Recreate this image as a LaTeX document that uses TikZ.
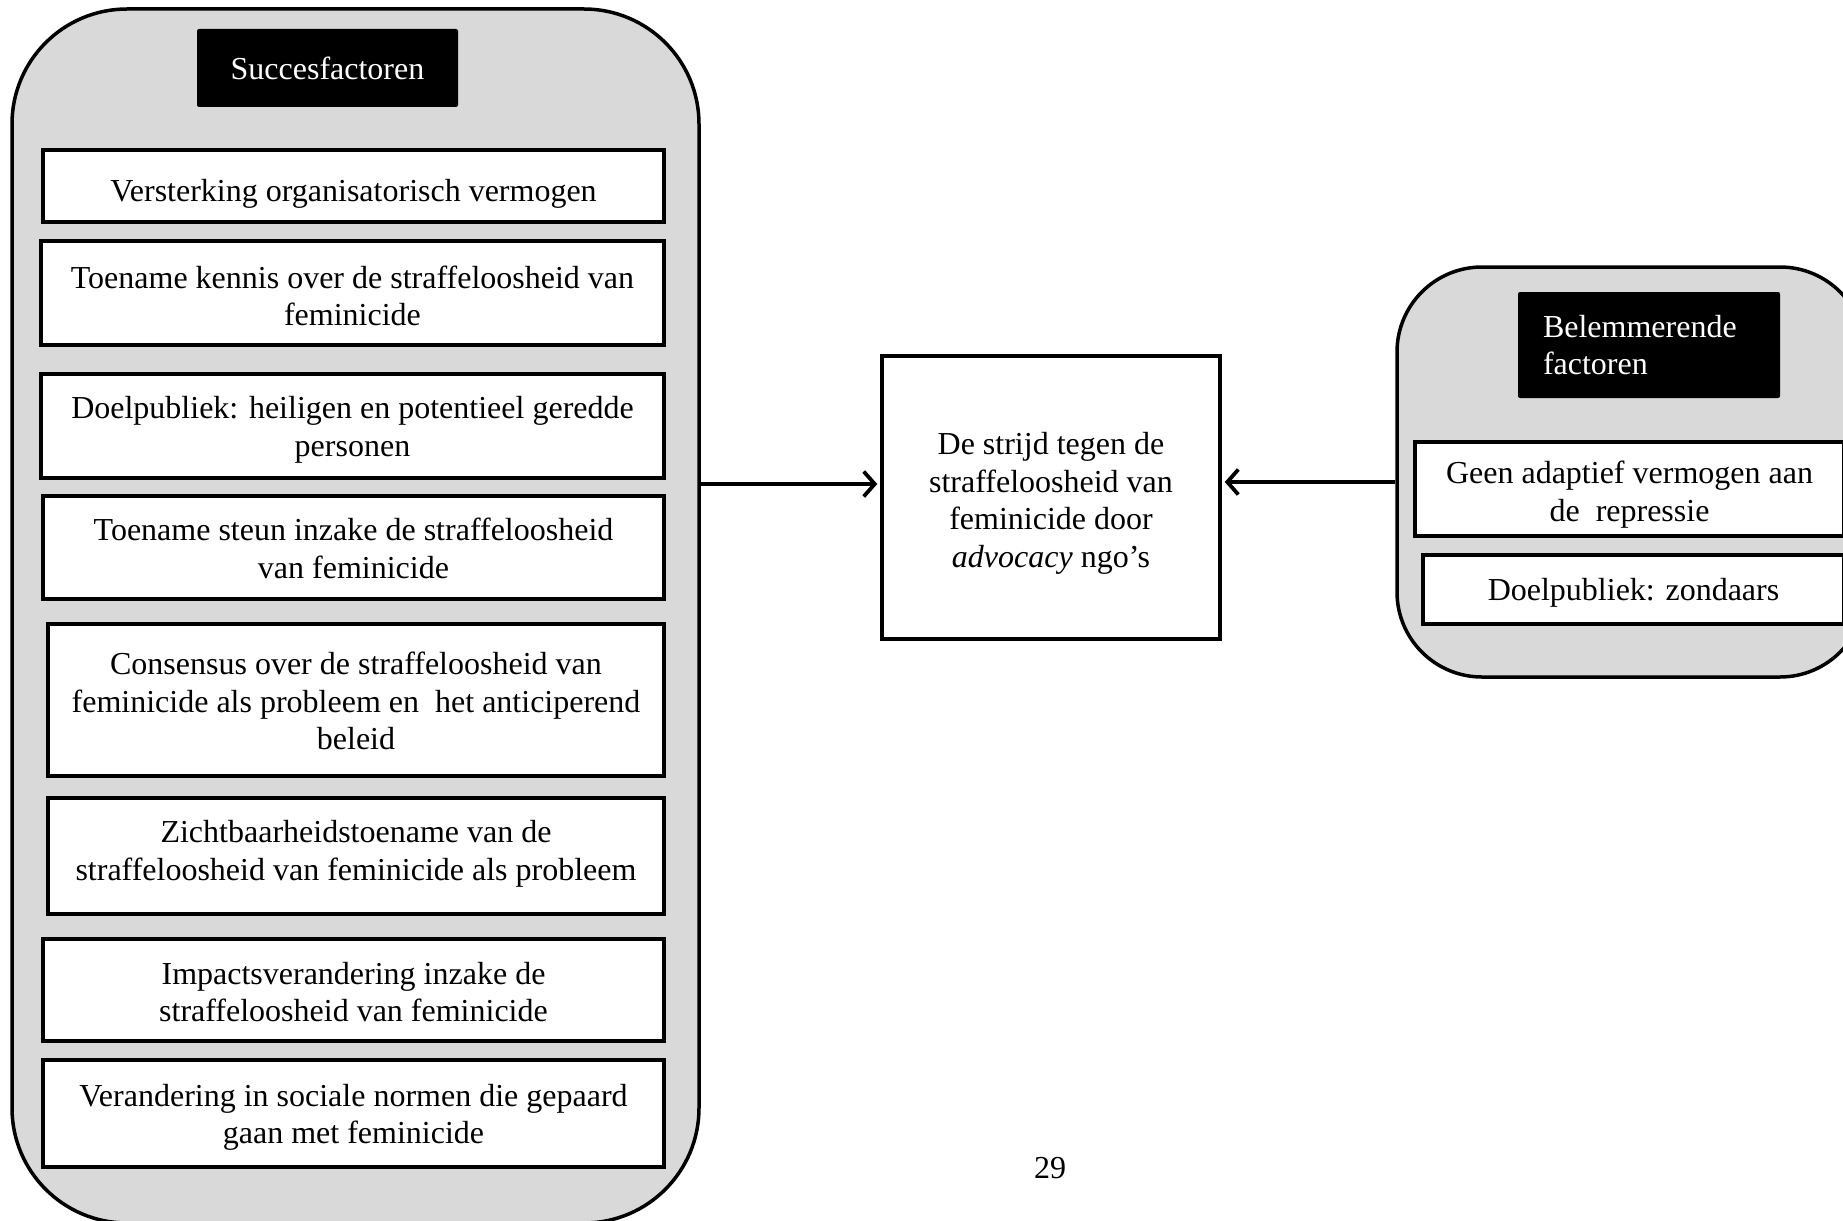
\documentclass[tikz,border=0pt]{standalone}
\usepackage{fontspec}
\setmainfont{Liberation Serif}
\usetikzlibrary{arrows.meta,positioning}

\definecolor{kadergrijs}{RGB}{217,217,217}
% lines of a box, lowered a little without changing the box size
\newcommand{\regels}[2][3pt]{\raisebox{-#1}[\height][\depth]{\begin{tabular}{@{}c@{}}#2\end{tabular}}}

\begin{document}
\begin{tikzpicture}[x=1pt,y=-1pt,
  every node/.style={font=\fontsize{32}{37.5}\selectfont},
  kader/.style={draw,line width=3.5pt,fill=kadergrijs,inner sep=0pt},
  kop/.style={fill=black,text=white,rounded corners=2pt,inner sep=0pt},
  factor/.style={draw,line width=4pt,fill=white,inner sep=0pt},
  pijl/.style={line width=3.8pt,shorten >=3pt,
    -{Straight Barb[length=11pt,width=25pt,line width=3.8pt]}}]
\useasboundingbox (0,0) rectangle (1843,1220);
\clip (0,0) rectangle (1843,1220);

% succesfactoren
\node[kader,rounded corners=115pt,minimum width=687pt,minimum height=1214pt] (succes) at (355.5,616) {};
\node[kop,minimum width=261pt,minimum height=78pt] (kopL) at (327.5,68) {Succesfactoren};

\node[factor,minimum width=621pt,minimum height=72pt] (f1) at (353.5,186)
  {\regels[8pt]{Versterking organisatorisch vermogen}};
\node[factor,minimum width=623pt,minimum height=104pt] (f2) at (352.5,293)
  {\regels[6.5pt]{Toename kennis over de straffeloosheid van\\feminicide}};
\node[factor,minimum width=623pt,minimum height=104pt] (f3) at (352.5,426)
  {\regels[4pt]{Doelpubliek: heiligen en potentieel geredde\\personen}};
\node[factor,minimum width=621pt,minimum height=103pt] (f4) at (353.5,547.5)
  {\regels[4.5pt]{Toename steun inzake de straffeloosheid\\van feminicide}};
\node[factor,minimum width=616pt,minimum height=152pt] (f5) at (356,700)
  {\regels[4.5pt]{Consensus over de straffeloosheid van\\feminicide als probleem en\ \ het anticiperend\\beleid}};
\node[factor,minimum width=616pt,minimum height=116pt] (f6) at (356,856)
  {\regels[-2pt]{Zichtbaarheidstoename van de\\straffeloosheid van feminicide als probleem}};
\node[factor,minimum width=621pt,minimum height=102pt] (f7) at (353.5,990)
  {\regels[5.5pt]{Impactsverandering inzake de\\straffeloosheid van feminicide}};
\node[factor,minimum width=621pt,minimum height=107pt] (f8) at (353.5,1113.5)
  {\regels[4pt]{Verandering in sociale normen die gepaard\\gaan met feminicide}};

% kern
\node[factor,line width=3.5pt,minimum width=338pt,minimum height=283pt] (kern) at (1051,497.5)
  {\regels[6pt]{De strijd tegen de\\straffeloosheid van\\feminicide door\\\textit{advocacy} ngo’s}};

% belemmerende factoren
\node[kader,rounded corners=85pt,minimum width=468pt,minimum height=410pt] (belem) at (1631,472) {};
\node[kop,minimum height=106pt,text width=212pt,align=left,inner xsep=25pt] (kopR) at (1649,345)
  {Belemmerende\\factoren};
\node[factor,minimum width=429pt,minimum height=94pt] (b1) at (1629.5,489)
  {\regels[6pt]{Geen adaptief vermogen aan\\de\ \ repressie}};
\node[factor,minimum width=421pt,minimum height=69pt] (b2) at (1633.5,589)
  {\regels[4pt]{Doelpubliek: zondaars}};

\coordinate (hoogteL) at (0,484);
\coordinate (hoogteR) at (0,482);
\draw[pijl] (succes.east |- hoogteL) -- (kern.west |- hoogteL);
\draw[pijl] (belem.west |- hoogteR) -- (kern.east |- hoogteR);

\node (pagina) at (1050,1168) {29};
\end{tikzpicture}
\end{document}
